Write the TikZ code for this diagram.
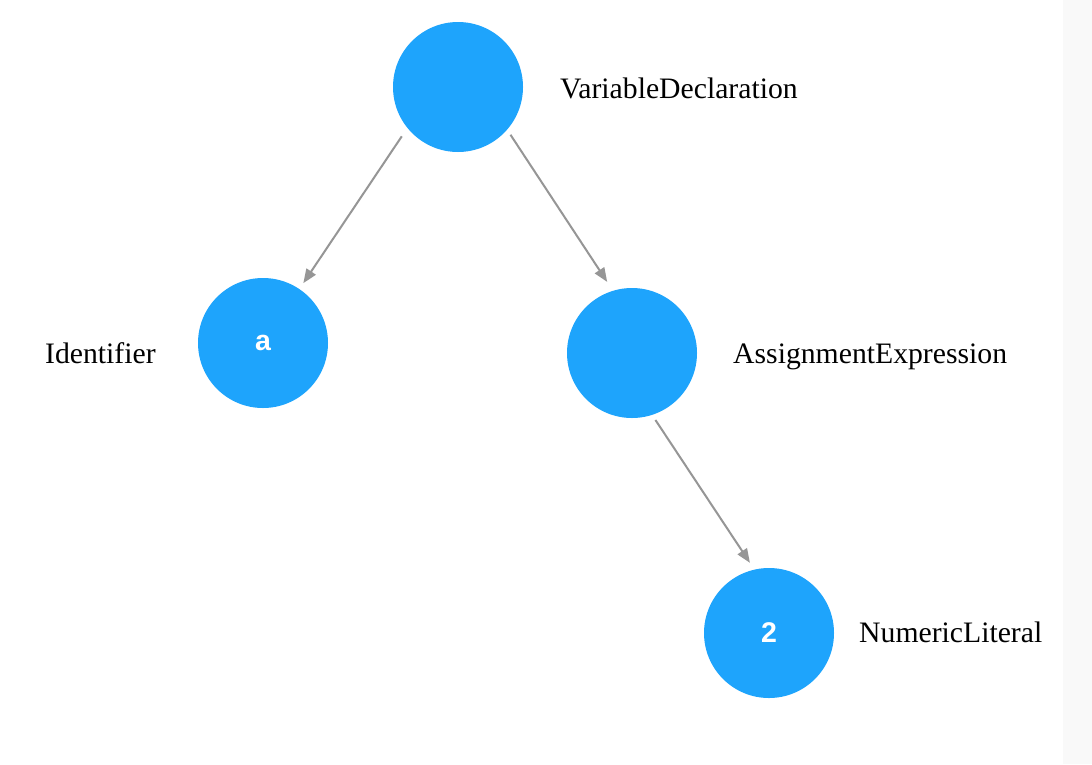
\documentclass[tikz,border=0pt]{standalone}
\usepackage{fontspec}
\setmainfont{Liberation Serif}
\newfontfamily\innerfont{Liberation Sans}
\usetikzlibrary{arrows.meta}
\definecolor{nodeblue}{RGB}{30,164,252}
\definecolor{edgegray}{RGB}{150,150,150}
\definecolor{stripgray}{RGB}{249,249,249}
\tikzset{
  treenode/.style={circle, fill=nodeblue, draw=none, minimum size=130pt, inner sep=0pt,
    text=white, font=\innerfont\bfseries\fontsize{28.5}{32}\selectfont},
  treelabel/.style={anchor=base west, inner sep=0pt, text=black,
    font=\fontsize{29.7}{34}\selectfont},
  treeedge/.style={draw=edgegray, line width=2pt,
    -{Triangle[length=14pt,width=11pt]}}
}
\begin{document}
\begin{tikzpicture}[x=1pt,y=-1pt]
\useasboundingbox (0,0) rectangle (1092,764);
\fill[white] (0,0) rectangle (1092,764);
\fill[stripgray] (1063,0) rectangle (1092,764);

\node[treenode] (root) at (458,87) {};
\node[treenode] (ida) at (263,343) {a};
\node[treenode] (assign) at (632,353) {};
\node[treenode] (num) at (769,633) {2};

\node[treelabel] (lroot) at (560,98) {VariableDeclaration};
\node[treelabel] (lida) at (45,363) {Identifier};
\node[treelabel] (lassign) at (733,363) {AssignmentExpression};
\node[treelabel] (lnum) at (859,642) {NumericLiteral};

\draw[treeedge, shorten <=10pt, shorten >=7pt] (root.219.5) -- (ida.56.4);
\draw[treeedge, shorten <=6pt, shorten >=10.5pt] (root.-41.4) -- (assign.107.2);
\draw[treeedge, shorten <=6pt, shorten >=8pt] (assign.-72.3) -- (num.103.8);
\end{tikzpicture}
\end{document}
